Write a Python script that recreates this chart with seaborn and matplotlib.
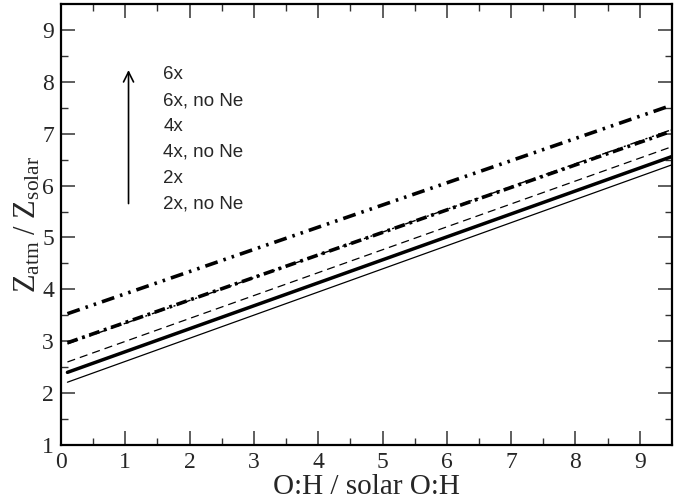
import matplotlib
matplotlib.use("Agg")
import matplotlib.pyplot as plt
import seaborn as sns
import pandas as pd
import numpy as np

sns.set_style("ticks")
plt.rcParams["font.family"] = ["Liberation Serif", "DejaVu Serif"]
plt.rcParams["mathtext.fontset"] = "custom"
plt.rcParams["mathtext.rm"] = "Liberation Serif"
plt.rcParams["mathtext.it"] = "Liberation Serif:italic"

# O:H enhancement relative to solar
oh_ratio = [0.1, 9.5]

# Atmospheric metallicity for each enrichment model
z_2x_no_ne = [2.21, 6.40]
z_2x = [2.40, 6.56]
z_4x_no_ne = [2.60, 6.75]
z_4x = [2.97, 7.05]
z_6x_no_ne = [2.95, 7.08]
z_6x = [3.53, 7.55]

labels = ["6x", "6x, no Ne", "4x", "4x, no Ne", "2x", "2x, no Ne"]

series = {
    "2x, no Ne": z_2x_no_ne,
    "2x": z_2x,
    "4x, no Ne": z_4x_no_ne,
    "4x": z_4x,
    "6x, no Ne": z_6x_no_ne,
    "6x": z_6x,
}

styles = {
    "2x, no Ne": dict(lw=0.9, ls="-"),
    "2x": dict(lw=2.5, ls="-"),
    "4x, no Ne": dict(lw=0.9, ls=(0, (6.5, 4.0))),
    "4x": dict(lw=2.6, ls=(0, (3.0, 1.3, 0.8, 1.3))),
    "6x, no Ne": dict(lw=1.0, ls=(0, (8.0, 3.5, 1.5, 3.5, 1.5, 3.5))),
    "6x": dict(lw=2.6, ls=(0, (3.6, 1.7, 0.7, 1.7, 0.7, 1.7))),
}

fig = plt.figure(figsize=(6.87, 5.01), dpi=100)
ax = fig.add_axes([0.0888, 0.1118, 0.8892, 0.8802])

for name, vals in series.items():
    df = pd.DataFrame({"oh": oh_ratio, "z": vals})
    st = styles[name]
    sns.lineplot(data=df, x="oh", y="z", ax=ax, color="black",
                 linewidth=st["lw"], linestyle=st["ls"], legend=False)

ax.set_xlim(0, 9.5)
ax.set_ylim(1, 9.5)
ax.set_xticks(np.arange(0, 10, 1))
ax.set_yticks(np.arange(1, 10, 1))
ax.set_xticks(np.arange(0.5, 9.5, 1), minor=True)
ax.set_yticks(np.arange(1.5, 9.5, 1), minor=True)
ax.tick_params(which="both", direction="in", top=True, right=True,
               labelsize=17, color="#333333")
ax.tick_params(which="major", length=10, width=1.1, pad=5)
ax.tick_params(which="minor", length=5, width=1.0)
for s in ax.spines.values():
    s.set_linewidth(1.6)
    s.set_color("black")

ax.set_xlabel("O:H / solar O:H", fontsize=21, labelpad=1)
ax.set_ylabel(r"$\mathrm{Z_{atm}\ /\ Z_{solar}}$", fontsize=22, labelpad=0)

# Labels listed from highest to lowest enrichment with an arrow
label_y = [8.14, 7.64, 7.14, 6.64, 6.14, 5.64]
for y, txt in zip(label_y, labels):
    ax.text(1.59, y, txt, fontsize=13.5, family=["Liberation Sans", "DejaVu Sans"],
            va="center", ha="left")
ax.annotate("", xy=(1.05, 8.28), xytext=(1.05, 5.6),
            arrowprops=dict(arrowstyle="->", lw=1.2, color="black",
                            mutation_scale=18))

fig.savefig("out.png", dpi=100)
